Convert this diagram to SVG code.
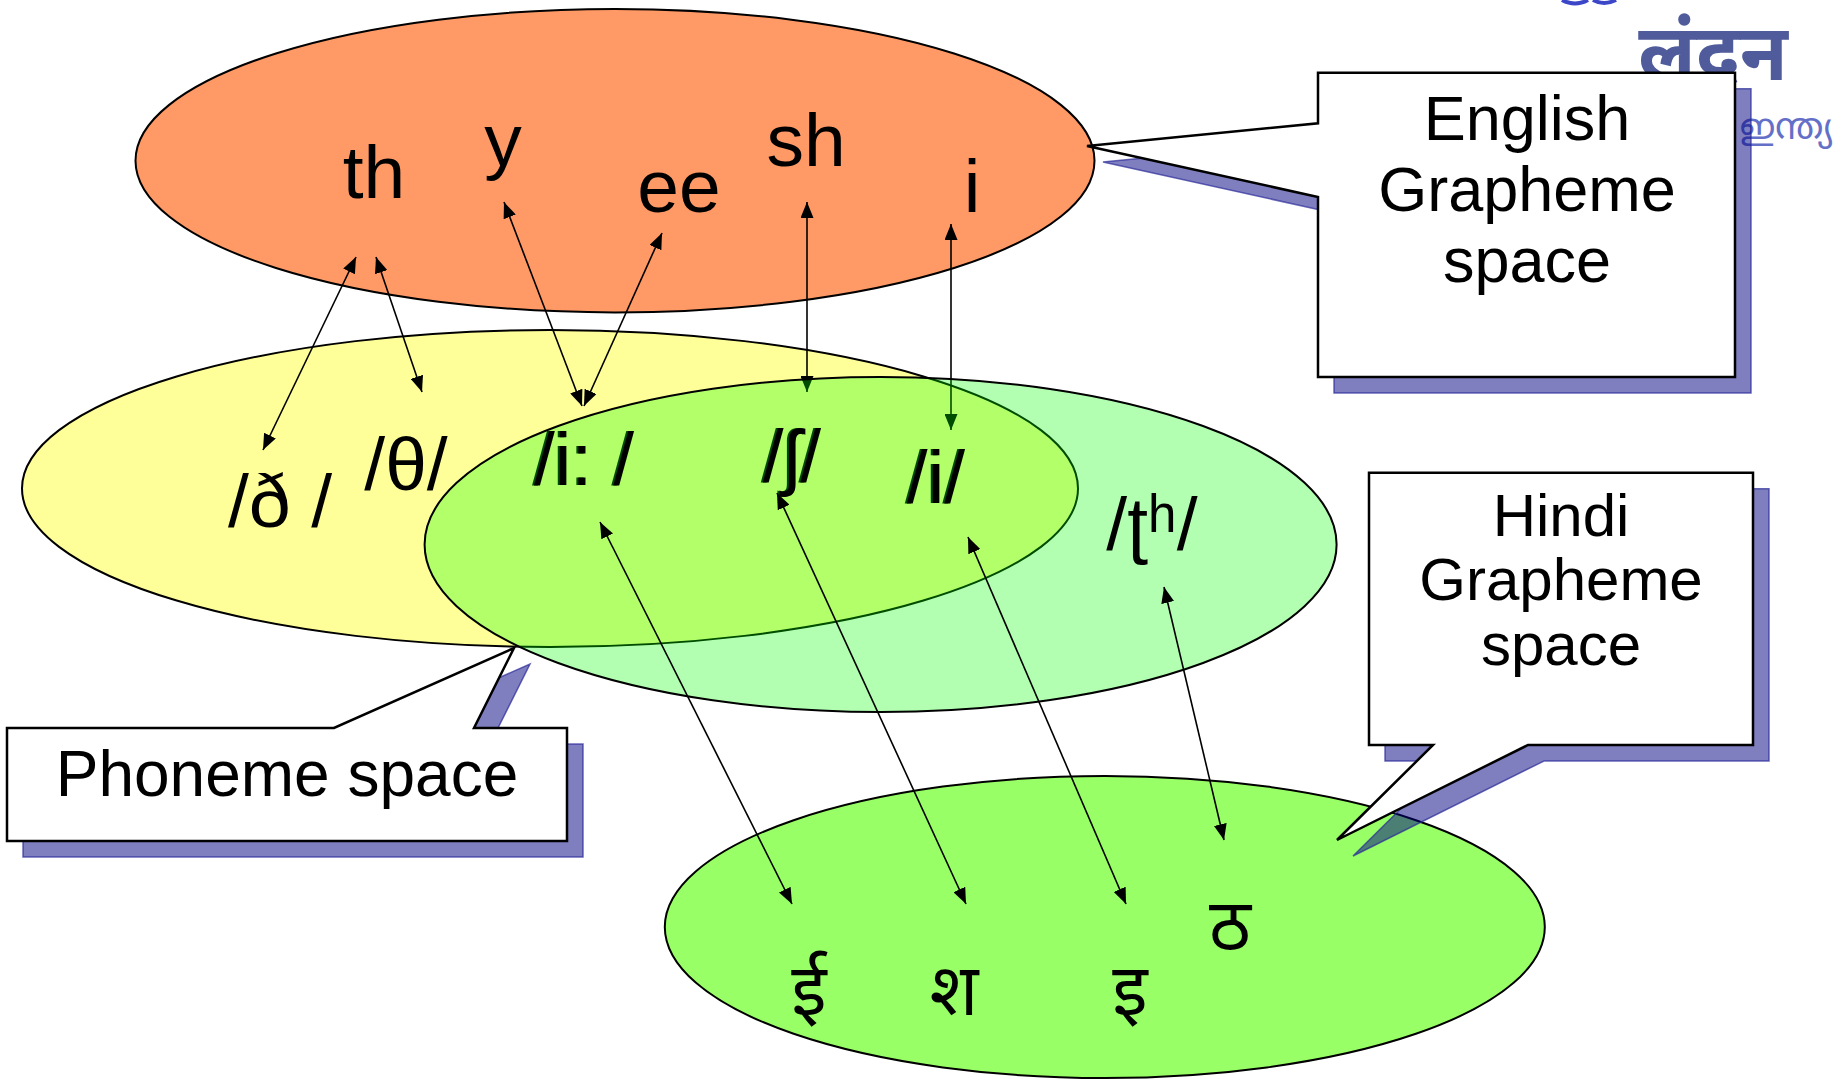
<svg xmlns="http://www.w3.org/2000/svg" width="1835" height="1079" viewBox="0 0 1835 1079">
<style>
.t{font-family:"Liberation Sans","DejaVu Sans",Arial,sans-serif;fill:#000;text-anchor:middle}
.g{font-size:75px}
.dv{font-family:"Noto Sans Devanagari","Lohit Devanagari","Mangal","FreeSans",sans-serif;font-size:72px;fill:#000;text-anchor:middle}
.el{stroke:#000;stroke-width:2}
.ar{stroke:#000;stroke-width:1.6;fill:none;marker-start:url(#ah);marker-end:url(#ah)}
.sh{fill:#000080;fill-opacity:.5;stroke:#2a2a9a;stroke-opacity:.7;stroke-width:1.5}
.co{fill:#fff;stroke:#000;stroke-width:2.5}
.ct{font-family:"Liberation Sans",Arial,sans-serif;fill:#000;text-anchor:middle}
</style>
<defs>
<marker id="ah" viewBox="0 0 16 13" markerUnits="userSpaceOnUse" markerWidth="16" markerHeight="13" refX="16" refY="6.5" orient="auto-start-reverse">
<path d="M0,0 L16,6.5 L0,13 Z" fill="#000"/>
</marker>
</defs>
<rect width="1835" height="1079" fill="#fff"/>

<g id="logo">
<path d="M1562,0 Q1575,7 1588,0 M1593,0 Q1604,6 1616,0" stroke="#3c46c8" stroke-width="4" fill="none"/>
<text x="1713" y="80" font-family="'Noto Sans Devanagari','Lohit Devanagari','FreeSans',sans-serif" font-size="78" font-weight="bold" fill="#4f5b9b" text-anchor="middle">लंदन</text>
<text x="1786" y="139" font-family="'Noto Sans Malayalam','Lohit Malayalam','FreeSans',sans-serif" font-size="36" fill="#6470c8" text-anchor="middle">ഇന്ത്യ</text>
</g>

<g id="english-space">
<ellipse class="el" cx="615" cy="160.7" rx="479.5" ry="151.7" fill="#ff9966"/>
<text class="t g" x="374" y="198">th</text>
<text class="t g" x="503" y="166">y</text>
<text class="t g" x="679" y="212">ee</text>
<text class="t g" x="806" y="166">sh</text>
<text class="t g" x="972" y="212">i</text>
</g>

<g id="phoneme-space-yellow">
<ellipse class="el" cx="550" cy="488.5" rx="528" ry="158.5" fill="#ffff99"/>
</g>

<g id="connectors-upper">
<line class="ar" x1="356" y1="257" x2="263" y2="450"/>
<line class="ar" x1="376" y1="257" x2="422" y2="392"/>
<line class="ar" x1="504" y1="202" x2="582" y2="406"/>
<line class="ar" x1="662" y1="233" x2="584" y2="406"/>
<line class="ar" x1="807" y1="202" x2="807" y2="392"/>
<line class="ar" x1="951" y1="224" x2="951" y2="430"/>
</g>

<g id="phonemes-under">
<text class="t g" x="280" y="527">/ð /</text>
<text class="t g" x="406" y="490">/θ/</text>
<text class="t g" x="582" y="485">/i: /</text>
<text class="t g" x="790" y="482">/ʃ/</text>
<text class="t g" x="934" y="503">/i/</text>
</g>

<g id="phoneme-space-green">
<ellipse class="el" cx="880.6" cy="544.5" rx="456" ry="167.5" fill="#00ff00" fill-opacity="0.3"/>
</g>

<g id="phonemes">
<text class="t g" x="584" y="485">/i: /</text>
<text class="t g" x="792" y="482">/ʃ/</text>
<text class="t g" x="936" y="503">/i/</text>
<text class="t g" x="1152" y="550">/ʈʰ/</text>
</g>

<g id="hindi-space">
<ellipse class="el" cx="1104.8" cy="927" rx="440" ry="151" fill="#99ff66"/>
<text class="dv" x="809" y="1015">ई</text>
<text class="dv" x="954" y="1015">श</text>
<text class="dv" x="1130" y="1015">इ</text>
<text class="dv" x="1230" y="950">ठ</text>
</g>

<g id="connectors-lower">
<line class="ar" x1="600" y1="522" x2="792" y2="904"/>
<line class="ar" x1="777" y1="493" x2="966" y2="904"/>
<line class="ar" x1="968" y1="537" x2="1126" y2="904"/>
<line class="ar" x1="1164" y1="587" x2="1224" y2="840"/>
</g>

<g id="callout-english">
<path class="sh" d="M1334,88.7 H1751 V393 H1334 V213 L1103,162 L1334,139.3 Z"/>
<path class="co" d="M1318,72.7 H1735 V377 H1318 V197 L1087,146 L1318,123.3 Z"/>
<text class="ct" font-size="63" x="1527" y="140">English</text>
<text class="ct" font-size="63" x="1527" y="211">Grapheme</text>
<text class="ct" font-size="63" x="1527" y="282">space</text>
</g>

<g id="callout-phoneme">
<path class="sh" d="M23,744 H350 L530,664 L490,744 H583 V857 H23 Z"/>
<path class="co" d="M7,728 H334 L514,648 L474,728 H567 V841 H7 Z"/>
<text class="ct" font-size="64" x="287" y="796">Phoneme space</text>
</g>

<g id="callout-hindi">
<path class="sh" d="M1385,488.7 H1769 V761 H1544 L1353,856 L1449,761 H1385 Z"/>
<path class="co" d="M1369,472.7 H1753 V745 H1528 L1337,840 L1433,745 H1369 Z"/>
<text class="ct" font-size="60" x="1561" y="536">Hindi</text>
<text class="ct" font-size="60" x="1561" y="600">Grapheme</text>
<text class="ct" font-size="60" x="1561" y="665">space</text>
</g>
</svg>
